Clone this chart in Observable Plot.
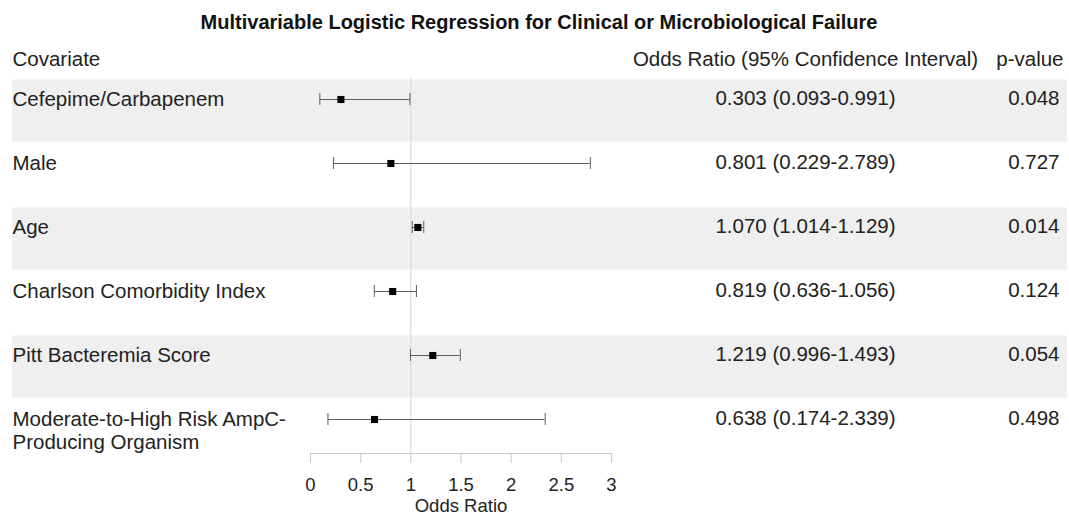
<!DOCTYPE html>
<html><head><meta charset="utf-8">
<script src="https://cdn.jsdelivr.net/npm/d3@7"></script>
<script src="https://cdn.jsdelivr.net/npm/@observablehq/plot@0.6"></script>
<style>body{margin:0;background:#fff;} svg{display:block}</style>
</head><body><div id="chart"></div>
<script>
const title = "Multivariable Logistic Regression for Clinical or Microbiological Failure";
const headers = ["Covariate", "Odds Ratio (95% Confidence Interval)", "p-value"];
const covariates = ["Cefepime/Carbapenem", "Male", "Age", "Charlson Comorbidity Index", "Pitt Bacteremia Score", "Moderate-to-High Risk AmpC-\nProducing Organism"];
const oddsRatio = [0.303, 0.801, 1.070, 0.819, 1.219, 0.638];
const ciLow = [0.093, 0.229, 1.014, 0.636, 0.996, 0.174];
const ciHigh = [0.991, 2.789, 1.129, 1.056, 1.493, 2.339];
const pValues = ["0.048", "0.727", "0.014", "0.124", "0.054", "0.498"];
const xTicks = [0, 0.5, 1, 1.5, 2, 2.5, 3];
const xLabel = "Odds Ratio";
const refValue = 1;

const rows = covariates.map((c, i) => ({
  key: c, or: oddsRatio[i], lo: ciLow[i], hi: ciHigh[i], p: pValues[i],
  orText: `${oddsRatio[i].toFixed(3)} (${ciLow[i].toFixed(3)}-${ciHigh[i].toFixed(3)})`
}));
const shaded = rows.filter((d, i) => i % 2 === 0);

const FONT = "'Liberation Sans', Arial, sans-serif";
const FS = 20.5;
const FA = 18.5;
const TXT = "#222";
const WH = "#5e5e5e";

const chart = Plot.plot({
  width: 1069, height: 517,
  marginTop: 78, marginBottom: 64, marginLeft: 12, marginRight: 2,
  style: {fontFamily: FONT, fontSize: FS + "px", color: TXT, background: "#fff"},
  x: {domain: [xTicks[0], xTicks[xTicks.length - 1]], range: [310, 611]},
  y: {domain: covariates, range: [66, 451], padding: 0, axis: null},
  marks: [
    Plot.ruleY(shaded, {y: "key", stroke: "#efefef", strokeWidth: 62, dy: 11}),
    Plot.ruleX([refValue], {stroke: "#d6d6d6", strokeWidth: 1}),
    Plot.ruleY([covariates[covariates.length - 1]], {x1: xTicks[0], x2: xTicks[xTicks.length - 1], stroke: "#c8c8c8", dy: 34}),
    Plot.axisX(xTicks, {tickSize: 10, tickPadding: 14, stroke: "#c8c8c8", fill: TXT, label: null, fontSize: FA, tickFormat: d => String(d)}),
    Plot.text([xLabel], {x: () => (xTicks[0] + xTicks[xTicks.length - 1]) / 2, frameAnchor: "bottom", dy: 58, fontSize: FA, fill: TXT}),
    Plot.ruleY(rows, {y: "key", x1: "lo", x2: "hi", stroke: WH, strokeWidth: 1}),
    Plot.tickX(rows, {x: "lo", y: "key", stroke: WH, insetTop: 26, insetBottom: 26}),
    Plot.tickX(rows, {x: "hi", y: "key", stroke: WH, insetTop: 26, insetBottom: 26}),
    Plot.dot(rows, {x: "or", y: "key", symbol: "square", r: 4, fill: "#000"}),
    Plot.text(rows, {y: "key", text: "key", frameAnchor: "left", textAnchor: "start", lineAnchor: "top", lineHeight: 1.12, dy: -9.5, fontSize: FS, fill: TXT}),
    Plot.text(rows, {y: "key", text: "orText", frameAnchor: "right", textAnchor: "middle", dx: -262, dy: -1, fontSize: FS, fill: TXT}),
    Plot.text(rows, {y: "key", text: "p", frameAnchor: "right", textAnchor: "end", dx: -8, dy: -1, fontSize: FS, fill: TXT}),
    Plot.text([headers[0]], {frameAnchor: "top-left", textAnchor: "start", dy: -27, fontSize: FS, fill: TXT}),
    Plot.text([headers[1]], {frameAnchor: "top-right", textAnchor: "middle", dx: -262, dy: -27, fontSize: FS, fill: TXT}),
    Plot.text([headers[2]], {frameAnchor: "top-right", textAnchor: "end", dx: -4, dy: -27, fontSize: FS, fill: TXT}),
    Plot.text([title], {frameAnchor: "top", dx: -1, dy: -64, fontSize: 20, fontWeight: "bold", fill: "#111"})
  ]
});
document.getElementById("chart").appendChild(chart);
</script>
</body></html>
